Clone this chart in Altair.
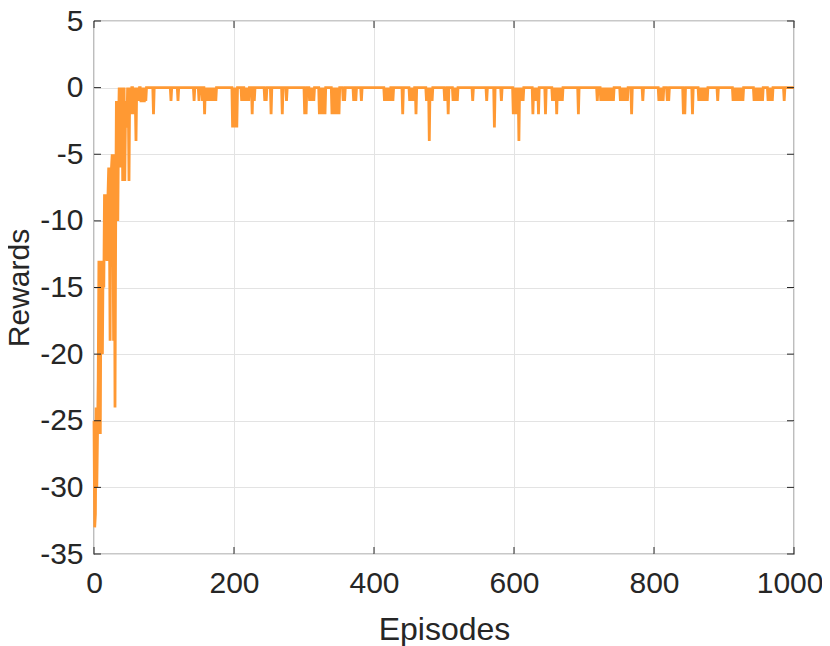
import altair as alt
import pandas as pd

# ---- data ----
n_episodes = 1000

# rewards for the first 76 episodes (learning phase)
early_rewards = [
    -25, -33, -32, -24, -30, -26, -22, -13, -20, -26,
    -13, -18, -20, -13, -15, -8, -13, -8, -12, -13,
    -8, -6, -10, -19, -7, -6, -5, -8, -19, -5,
    -24, -10, -1, -6, -10, -3, 0, -6, -1, -3,
    0, -7, -1, 0, -7, -2, -1, -3, 0, -1,
    -7, 0, -2, -1, 0, 0, -2, 0, -1, -1,
    -4, 0, -1, 0, -1, 0, 0, -1, -1, 0,
    -1, -1, -1, 0, -1, 0,
]

# later episodes where the reward drops below 0 (all others are 0)
dip_episodes = [
    85, 110, 120, 143, 150,
    155, 158, 160, 162, 164, 166, 168, 170, 172, 174,
    198, 200, 202, 204,
    211, 215, 217, 219, 221, 226, 229, 244, 246, 253, 269, 275,
    301, 303, 308, 310, 312, 314,
    322, 324, 326, 328, 330,
    340, 342, 344, 346, 348, 350, 356, 358,
    371, 374, 382,
    415, 417, 419, 421, 423, 427, 441,
    451, 453, 455, 457, 460,
    475, 477, 479, 481, 483,
    501, 503, 506, 513, 515, 517, 519,
    541, 561, 572, 582,
    599, 601, 603, 605, 607, 609, 611, 613,
    627, 629, 631, 633, 635, 645,
    655, 657, 659, 661, 663, 665, 667, 669,
    692, 719,
    724, 726, 728, 730, 732, 734, 736, 738, 740, 742,
    752, 754, 756, 758, 760, 762, 768, 784,
    807, 809, 811, 813, 819, 821,
    842, 844, 855,
    864, 866, 868, 870, 872, 874, 876,
    891,
    913, 915, 917, 919, 921, 923, 925, 927,
    943, 945, 947, 949, 951, 953, 955,
    963, 965, 967, 969, 986,
]
dip_values = [
    -2, -1, -1, -1, -1,
    -1, -2, -1, -1, -1, -1, -1, -1, -1, -1,
    -3, -3, -3, -3,
    -1, -1, -1, -1, -1, -2, -1, -1, -1, -2, -2, -1,
    -2, -2, -1, -1, -1, -1,
    -2, -2, -1, -2, -2,
    -2, -1, -2, -2, -1, -2, -1, -1,
    -1, -1, -1,
    -1, -1, -1, -1, -1, -1, -2,
    -1, -1, -1, -1, -2,
    -1, -1, -4, -1, -1,
    -1, -1, -2, -1, -1, -1, -1,
    -1, -1, -3, -1,
    -2, -2, -1, -2, -4, -1, -1, -1,
    -2, -1, -1, -1, -2, -2,
    -1, -1, -1, -2, -1, -1, -1, -1,
    -2, -1,
    -1, -1, -1, -1, -1, -1, -1, -1, -1, -1,
    -1, -1, -1, -1, -1, -1, -2, -1,
    -1, -1, -1, -1, -1, -1,
    -2, -2, -2,
    -1, -1, -1, -1, -1, -1, -1,
    -1,
    -1, -1, -1, -1, -1, -1, -1, -1,
    -1, -1, -1, -1, -1, -1, -1,
    -1, -1, -1, -1, -1,
]

x_ticks = [0, 200, 400, 600, 800, 1000]
y_ticks = [-35, -30, -25, -20, -15, -10, -5, 0, 5]

# ---- build the table ----
rewards = [0] * (n_episodes + 1)
for i, v in enumerate(early_rewards):
    rewards[i] = v
for e, v in zip(dip_episodes, dip_values):
    rewards[e] = v
df = pd.DataFrame({"Episode": list(range(n_episodes + 1)), "Reward": rewards})

W, H = 700, 533
FONT = "Liberation Sans"
AX = "#262626"

xscale = alt.Scale(domain=[0, 1000], nice=False, zero=False)
yscale = alt.Scale(domain=[-35, 5], nice=False, zero=False)

x_axis = alt.Axis(values=x_ticks, title="Episodes", grid=True, domain=False, ticks=False,
                  labelFlush=False, labelExpr="'' + datum.value",
                  labelAlign=alt.condition("datum.value >= 1000", alt.value("right"), alt.value("center")),
                  labelOffset=alt.condition("datum.value >= 1000", alt.value(29), alt.value(0)),
                  labelPadding=14, titlePadding=16, titleFontSize=32)
y_axis = alt.Axis(values=y_ticks, title="Rewards", grid=True, domain=False, ticks=False,
                  labelFlush=False, labelExpr="'' + datum.value",
                  labelPadding=11, titlePadding=5, titleFontSize=30)

line = alt.Chart(df).mark_line(color="#FF9933", strokeWidth=2.8).encode(
    x=alt.X("Episode:Q", scale=xscale, axis=x_axis, title="Episodes"),
    y=alt.Y("Reward:Q", scale=yscale, axis=y_axis, title="Rewards"),
)

# inward tick marks on all four sides (MATLAB box style)
xt = pd.DataFrame({"v": x_ticks})
yt = pd.DataFrame({"v": y_ticks})
TL = 7
xb = alt.Chart(xt).mark_rule(color=AX, strokeWidth=1).encode(
    x=alt.X("v:Q", scale=xscale, axis=x_axis, title="Episodes"), y=alt.value(H), y2=alt.value(H - TL))
xtop = alt.Chart(xt).mark_rule(color=AX, strokeWidth=1).encode(
    x=alt.X("v:Q", scale=xscale, axis=x_axis, title="Episodes"), y=alt.value(0), y2=alt.value(TL))
yl = alt.Chart(yt).mark_rule(color=AX, strokeWidth=1).encode(
    y=alt.Y("v:Q", scale=yscale, axis=y_axis, title="Rewards"), x=alt.value(0), x2=alt.value(TL))
yr = alt.Chart(yt).mark_rule(color=AX, strokeWidth=1).encode(
    y=alt.Y("v:Q", scale=yscale, axis=y_axis, title="Rewards"), x=alt.value(W), x2=alt.value(W - TL))

chart = alt.layer(line, xb, xtop, yl, yr).properties(
    width=W, height=H,
    autosize=alt.AutoSizeParams(type="none"),
    padding={"left": 86, "top": 13, "right": 28, "bottom": 92},
).configure_view(
    stroke=AX, strokeWidth=1.2
).configure_axis(
    labelFont=FONT, titleFont=FONT, labelFontSize=30,
    labelColor=AX, titleColor=AX, titleFontWeight="normal",
    gridColor="#e3e3e3", gridWidth=1,
)

chart.save("out.html", embed_options={"renderer": "svg", "actions": False})
